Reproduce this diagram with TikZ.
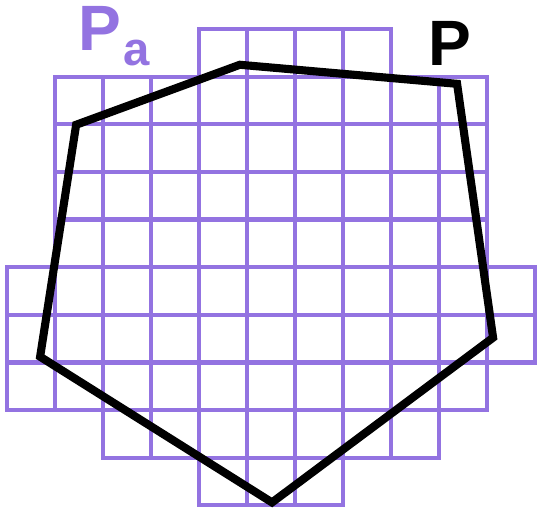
\documentclass[tikz,border=0pt]{standalone}
\usepackage{fontspec}
\setmainfont{Liberation Sans}
\usetikzlibrary{positioning}
\definecolor{cellpurple}{RGB}{147,115,225}
\tikzset{
  cell/.style={draw=cellpurple,line width=2.5pt},
  polyedge/.style={draw=black,line width=4.8pt,line join=miter},
  bigP/.style={font=\bfseries\fontsize{38}{38}\selectfont,inner sep=0pt,anchor=base west},
  subA/.style={font=\bfseries\fontsize{28}{28}\selectfont,inner sep=0pt,anchor=base west},
}
\begin{document}
\begin{tikzpicture}[x=1cm,y=0.992cm]
  \useasboundingbox (-0.146,-0.168) rectangle (11.04,10.61);
  % cells of P_a, row by row from the bottom
  \foreach \r/\a/\b in {0/4/6,1/2/8,2/0/9,3/0/10,4/0/10,5/1/9,6/1/9,7/1/9,8/1/9,9/4/7}
    \foreach \c in {\a,...,\b}
      \draw[cell] (\c,\r) rectangle ++(1,1);
  % the polygon P
  \coordinate (v1) at (1.44,7.99);
  \coordinate (v2) at (4.85,9.25);
  \coordinate (v3) at (9.375,8.85);
  \coordinate (v4) at (10.125,3.52);
  \coordinate (v5) at (5.52,0.06);
  \coordinate (v6) at (0.69,3.12);
  \draw[polyedge] (v1) -- (v2) -- (v3) -- (v4) -- (v5) -- (v6) -- cycle;
  % labels
  \node[bigP,text=cellpurple] (pa) at (1.485,9.54) {P};
  \node[subA,text=cellpurple] (pasub) at ([xshift=0.2mm,yshift=-2.95mm]pa.base east) {a};
  \node[bigP] (p) at (8.777,9.245) {P};
\end{tikzpicture}
\end{document}
